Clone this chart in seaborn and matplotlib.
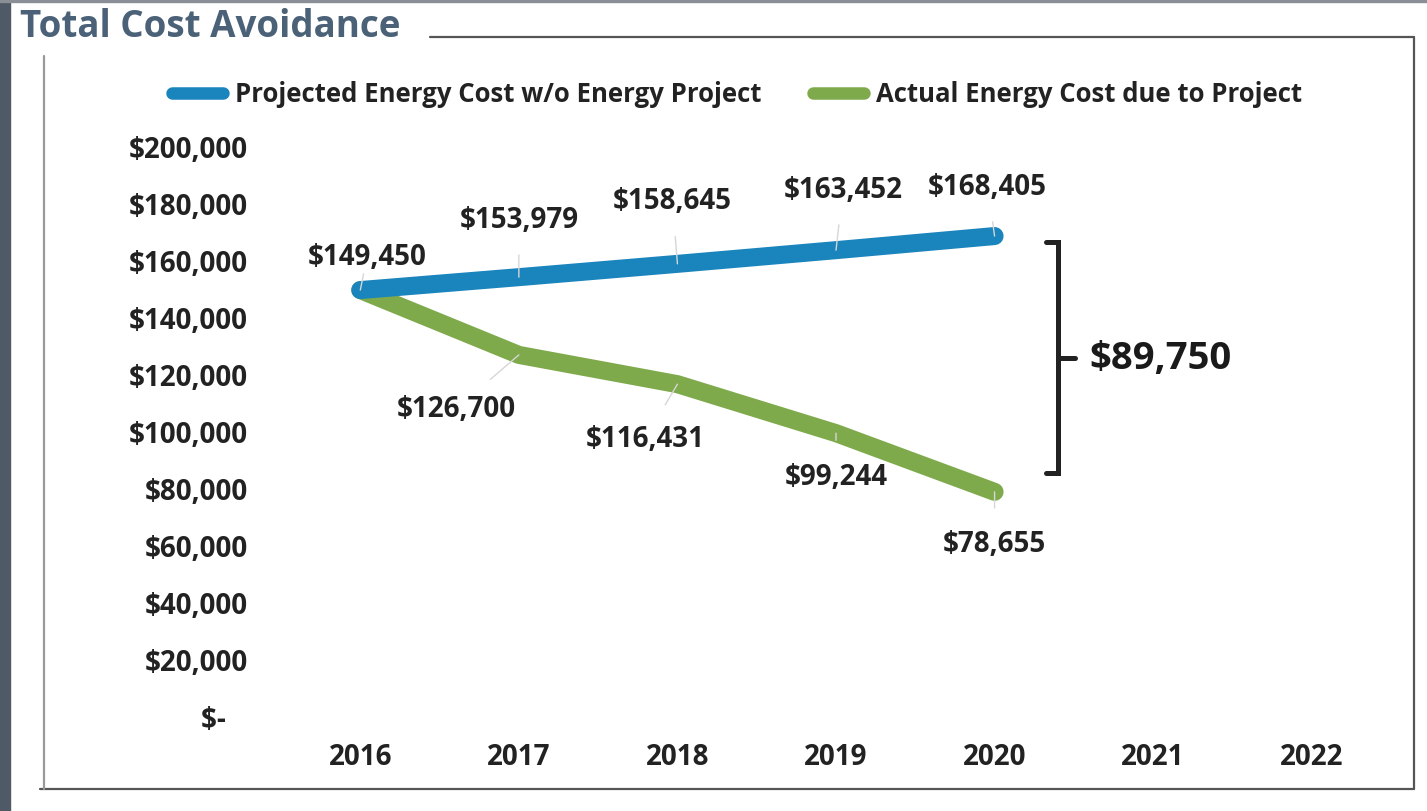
import matplotlib
matplotlib.use("Agg")
import matplotlib.pyplot as plt
from matplotlib.lines import Line2D
from matplotlib.patches import Rectangle
from matplotlib.ticker import FuncFormatter
import seaborn as sns
import pandas as pd

# ---- data ----
years = [2016, 2017, 2018, 2019, 2020]
all_years = [2016, 2017, 2018, 2019, 2020, 2021, 2022]
projected = [149450, 153979, 158645, 163452, 168405]
actual = [149450, 126700, 116431, 99244, 78655]
series_names = ["Projected Energy Cost w/o Energy Project", "Actual Energy Cost due to Project"]
y_ticks = [0, 20000, 40000, 60000, 80000, 100000, 120000, 140000, 160000, 180000, 200000]

# label offsets in pixels (dx, dy) relative to the data point
proj_offsets = [(7, 36), (0, 60), (-5, 65), (7, 63), (-7, 52)]
act_offsets = [(-63, -52), (-32, -52), (0, -41), (0, -50)]

blue = "#1a84bd"
green = "#7eaa4b"

sns.set_theme(style="white")
plt.rcParams["font.family"] = ["Open Sans", "DejaVu Sans"]
plt.rcParams["font.weight"] = "bold"

W, H = 1427, 812
fig = plt.figure(figsize=(W / 100, H / 100), dpi=100)
fig.patch.set_facecolor("white")

ax = fig.add_axes([281 / W, 95 / H, 1110 / W, 570 / H])

df = pd.DataFrame({
    "year": years + years,
    "value": projected + actual,
    "series": [series_names[0]] * len(years) + [series_names[1]] * len(years),
})
sns.lineplot(data=df, x="year", y="value", hue="series",
             palette=[blue, green], linewidth=13, legend=False, ax=ax,
             solid_capstyle="round", solid_joinstyle="round", clip_on=False)
ax.lines[0].set_zorder(3)
ax.lines[1].set_zorder(2)

ax.set_xlim(2015.5, 2022.5)
ax.set_ylim(0, 200000)
ax.set_xticks(all_years)
ax.set_xticklabels([str(y) for y in all_years])
ax.set_yticks(y_ticks)
ax.yaxis.set_major_formatter(FuncFormatter(lambda v, p: "$-   " if v == 0 else f"${v:,.0f}"))
ax.tick_params(axis="x", length=0, pad=19, labelsize=20, colors="#222222")
ax.tick_params(axis="y", length=0, pad=24, labelsize=20, colors="#222222")
for lab in ax.get_xticklabels() + ax.get_yticklabels():
    lab.set_fontweight("bold")
for s in ax.spines.values():
    s.set_visible(False)
ax.set_xlabel("")
ax.set_ylabel("")
ax.grid(False)
ax.set_facecolor("none")

# data labels with faint leader lines
def label(x, y, dx, dy):
    ax.annotate(f"${y:,.0f}", xy=(x, y), xytext=(dx * 0.72, (dy - 2) * 0.72),
                textcoords="offset points", ha="center", va="center",
                fontsize=20, fontweight="bold", color="#222222", zorder=5,
                arrowprops=dict(arrowstyle="-", color="#d6d6d6", lw=1,
                                shrinkA=13, shrinkB=0))

for x, y, (dx, dy) in zip(years, projected, proj_offsets):
    label(x, y, dx, dy)
for x, y, (dx, dy) in zip(years[1:], actual[1:], act_offsets):
    label(x, y, dx, dy)

# bracket showing avoided cost
diff = projected[-1] - actual[-1]
bx = 2020.4
top = projected[-1] - 2100
bot = actual[-1] + 6600
mid = (top + bot) / 2
ax.plot([bx - 0.075, bx, bx, bx - 0.075], [top, top, bot, bot], color="#222222",
        lw=3.6, clip_on=False, solid_joinstyle="miter", zorder=4)
ax.plot([bx, bx + 0.11], [mid, mid], color="#222222", lw=3.6, clip_on=False, zorder=4)
ax.text(bx + 0.2, mid, f"${diff:,.0f}", ha="left", va="center",
        fontsize=27.5, fontweight="bold", color="#1a1a1a")

# legend
handles = [Line2D([0], [0], color=blue, lw=9, solid_capstyle="round"),
           Line2D([0], [0], color=green, lw=9, solid_capstyle="round")]
leg = fig.legend(handles, series_names, loc="center", ncol=2,
                 bbox_to_anchor=(737 / W, 1 - 95 / H), frameon=False,
                 fontsize=18.5, handlelength=2.0, handletextpad=0.45,
                 columnspacing=2.0)
for t in leg.get_texts():
    t.set_fontweight("bold")
    t.set_color("#222222")

# title and frame
fig.text(20 / W, 1 - 27 / H, "Total Cost Avoidance", ha="left", va="center",
         fontsize=26.5, fontweight="bold", color="#4a6177")
frame_c = "#555555"
fig.add_artist(Line2D([430 / W, 1414 / W], [1 - 38 / H, 1 - 38 / H], color=frame_c, lw=1.6))
fig.add_artist(Line2D([1414 / W, 1414 / W], [1 - 38 / H, 1 - 790 / H], color=frame_c, lw=1.6))
fig.add_artist(Line2D([40 / W, 1414 / W], [1 - 790 / H, 1 - 790 / H], color=frame_c, lw=1.6))
fig.add_artist(Line2D([44 / W, 44 / W], [1 - 57 / H, 1 - 790 / H], color="#999999", lw=1.6))
fig.add_artist(Rectangle((0, 0), 10 / W, 1, transform=fig.transFigure,
                         color="#4f5a66", zorder=0))
fig.add_artist(Rectangle((0, 1 - 3 / H), 1, 3 / H, transform=fig.transFigure,
                         color="#8a8f95", zorder=0))

fig.savefig("out.png", dpi=100)
